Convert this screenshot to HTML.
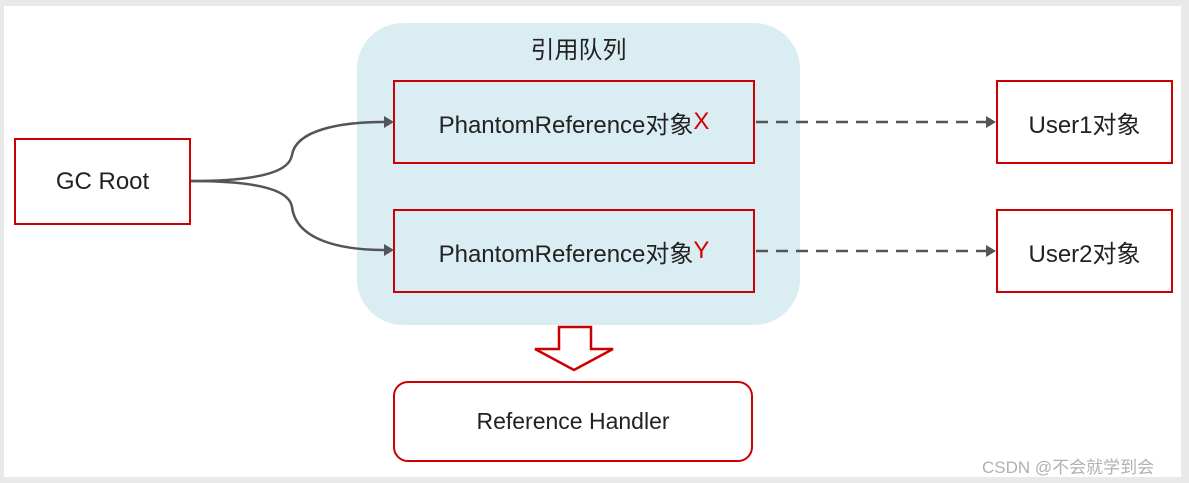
<!DOCTYPE html>
<html><head><meta charset="utf-8"><style>
body{margin:0;width:1189px;height:483px;background:#e9e9e9;position:relative;overflow:hidden;font-family:"Liberation Sans","Noto Sans CJK SC",sans-serif;}
.frame{position:absolute;left:4px;top:6px;width:1177px;height:471px;background:#fff;}
.box{position:absolute;border:2.5px solid #cc0000;box-sizing:border-box;display:flex;align-items:center;justify-content:center;color:#222;font-size:24px;}
</style></head><body>
<div class="frame"></div>
<div style="position:absolute;left:357px;top:23px;width:443px;height:302px;background:#daedf3;border-radius:46px;"></div>
<div style="position:absolute;left:357px;top:30px;width:443px;text-align:center;font-size:24px;color:#222;">引用队列</div>
<div class="box" style="left:14px;top:138px;width:177px;height:87px;">GC Root</div>
<div class="box" style="left:393px;top:80px;width:362px;height:84px;">PhantomReference对象<span style="color:#d40000">X</span></div>
<div class="box" style="left:393px;top:209px;width:362px;height:84px;">PhantomReference对象<span style="color:#d40000">Y</span></div>
<div class="box" style="left:996px;top:80px;width:177px;height:84px;">User1对象</div>
<div class="box" style="left:996px;top:209px;width:177px;height:84px;">User2对象</div>
<div class="box" style="left:393px;top:381px;width:360px;height:81px;border-radius:15px;font-size:23px;">Reference Handler</div>
<svg width="1189" height="483" style="position:absolute;left:0;top:0">
<g fill="none" stroke="#555" stroke-width="2.5">
<path d="M191 181 C280 181 290 165 292 155 C296 130 340 122 385 122"/>
<path d="M191 181 C280 181 290 197 292 207 C296 240 340 250 385 250"/>
<path d="M756 122 H988" stroke-dasharray="12 8"/>
<path d="M756 251 H988" stroke-dasharray="12 8"/>
</g>
<g fill="#555">
<path d="M384 116 L394 122 L384 128Z"/>
<path d="M384 244 L394 250 L384 256Z"/>
<path d="M986 116 L996 122 L986 128Z"/>
<path d="M986 245 L996 251 L986 257Z"/>
</g>
<path d="M559 327 H591 V349 H613 L574 370 L535 349 H559Z" fill="#fff" stroke="#cc0000" stroke-width="2.5"/>
</svg>
<div style="position:absolute;left:982px;top:453px;font-size:17px;color:#b0b0b0;">CSDN @不会就学到会</div>
</body></html>
